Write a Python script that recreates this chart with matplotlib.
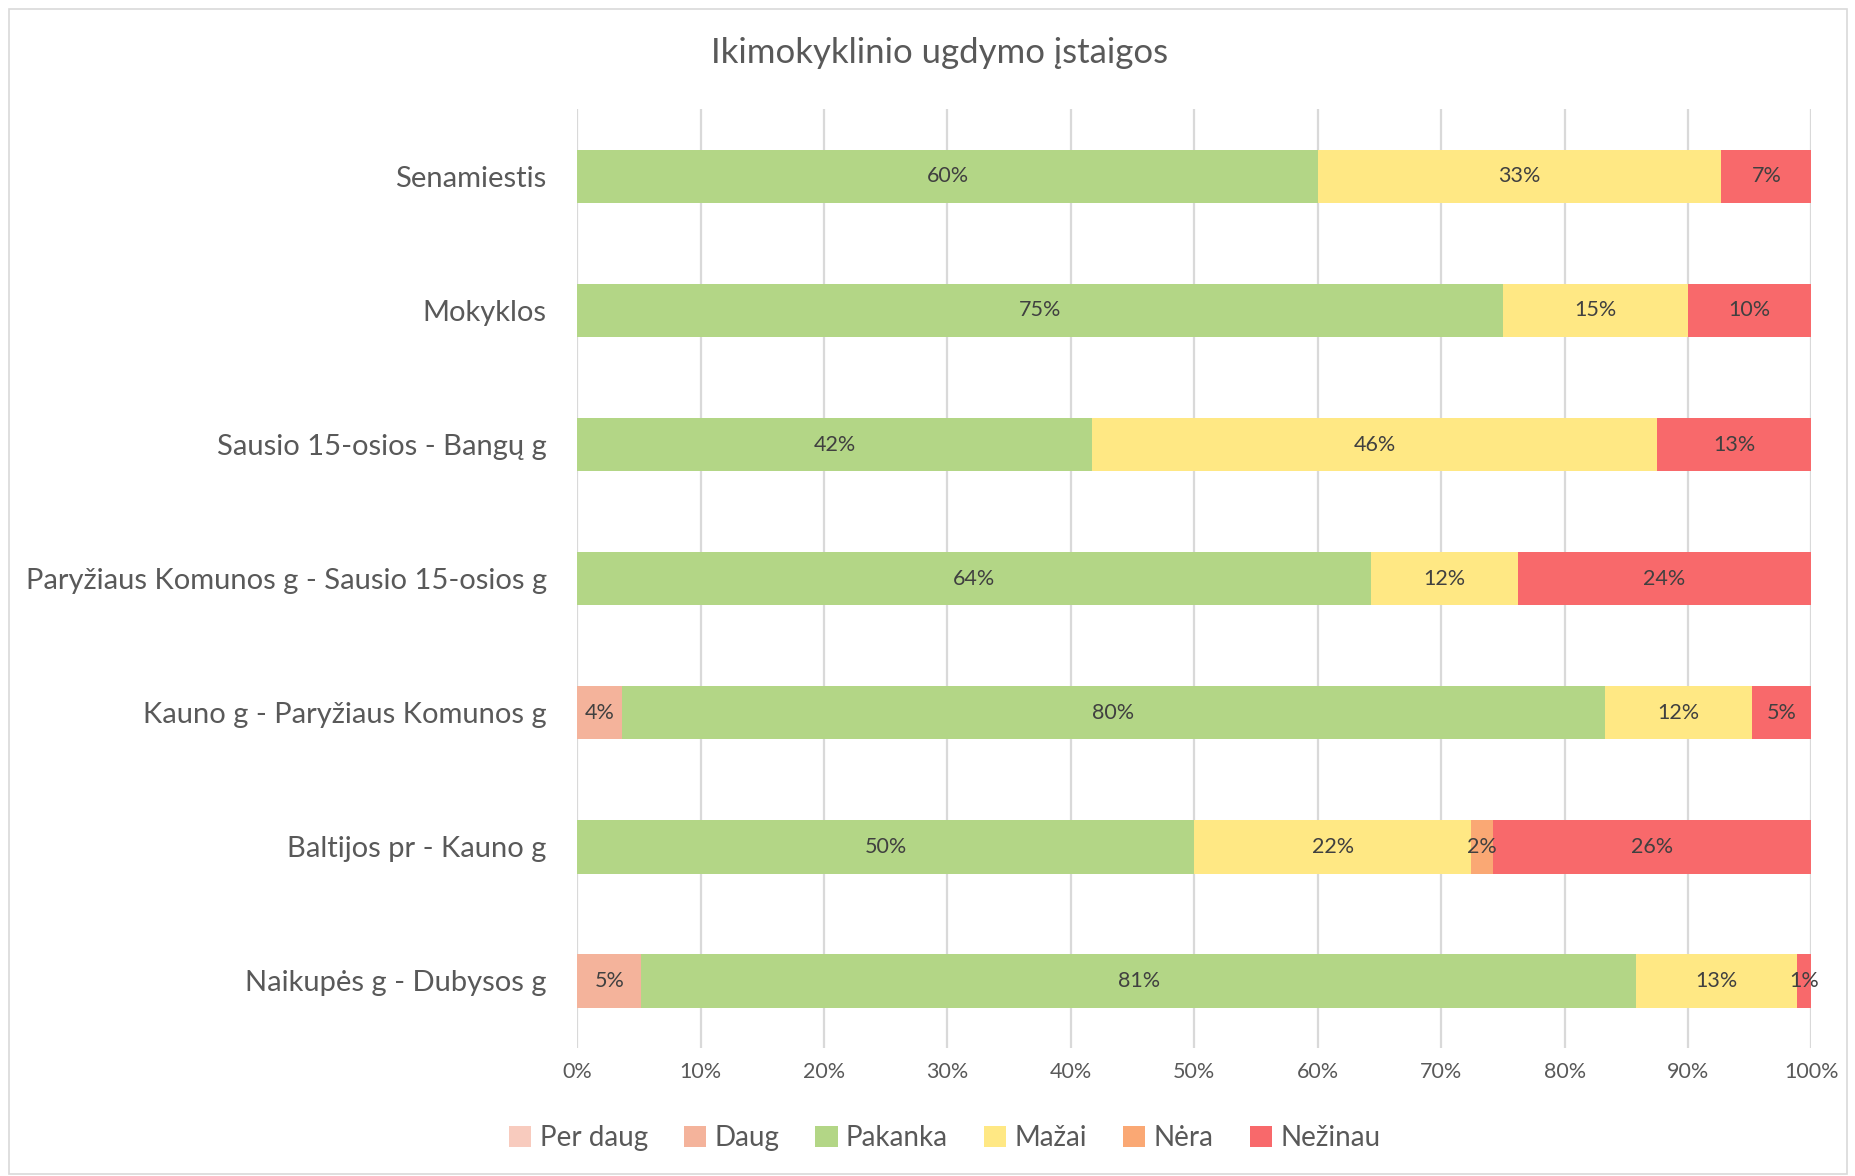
import numpy as np
import matplotlib.pyplot as plt
from matplotlib.patches import Rectangle

plt.rcParams['font.family'] = ['Lato', 'DejaVu Sans']

# data (shares, %), top to bottom
categories = ['Senamiestis', 'Mokyklos', 'Sausio 15-osios - Bangų g',
              'Paryžiaus Komunos g - Sausio 15-osios g',
              'Kauno g - Paryžiaus Komunos g', 'Baltijos pr - Kauno g',
              'Naikupės g - Dubysos g']
series = ['Per daug', 'Daug', 'Pakanka', 'Mažai', 'Nėra', 'Nežinau']
per_daug = [0, 0, 0, 0, 0, 0, 0]
daug = [0, 0, 0, 0, 3.6, 0, 5.2]
pakanka = [60.0, 75.0, 41.7, 64.3, 79.7, 50.0, 80.6]
mazai = [32.7, 15.0, 45.8, 11.9, 11.9, 22.4, 13.0]
nera = [0, 0, 0, 0, 0, 1.8, 0]
nezinau = [7.3, 10.0, 12.5, 23.8, 4.8, 25.8, 1.2]
colors = ['#F8CBBE', '#F4B39B', '#B3D686', '#FFE884', '#FAA874', '#F8696B']

values = [per_daug, daug, pakanka, mazai, nera, nezinau]

fig = plt.figure(figsize=(18.56, 11.76), dpi=100)
ax = fig.add_axes([0.311, 0.109, 0.665, 0.798])

y = np.arange(len(categories))[::-1]
left = np.zeros(len(categories))
for name, vals, col in zip(series, values, colors):
    vals = np.array(vals, dtype=float)
    ax.barh(y, vals, left=left, height=0.4, color=col, label=name, zorder=3)
    for yi, l, v in zip(y, left, vals):
        if v > 0:
            ax.text(l + v / 2, yi, f'{int(v + 0.5)}%', ha='center', va='center',
                    fontsize=15.5, color='#404040', zorder=4)
    left += vals

ax.set_xlim(0, 100)
ax.set_ylim(-0.5, len(categories) - 0.5)
ax.set_xticks(np.arange(0, 101, 10))
ax.set_xticklabels([f'{t}%' for t in range(0, 101, 10)], fontsize=15.5, color='#595959')
ax.set_yticks(y)
ax.set_yticklabels(categories, fontsize=21, color='#595959')
ax.tick_params(length=0, pad=22)
ax.tick_params(axis='x', pad=10)
ax.grid(axis='x', color='#D9D9D9', linewidth=1.6, zorder=0)
for s in ax.spines.values():
    s.set_visible(False)

fig.text(0.506, 0.955, 'Ikimokyklinio ugdymo įstaigos', ha='center', va='center',
         fontsize=25, color='#595959')

fig.legend(loc='center', bbox_to_anchor=(0.509, 0.032), ncol=6, frameon=False,
           fontsize=20, handlelength=0.8, handleheight=0.8, handletextpad=0.3,
           columnspacing=1.3, labelcolor='#595959')

fig.patches.append(Rectangle((0.005, 0.002), 0.99, 0.99, transform=fig.transFigure,
                             fill=False, edgecolor='#D9D9D9', linewidth=1.2))

fig.savefig('out.png', dpi=100)
